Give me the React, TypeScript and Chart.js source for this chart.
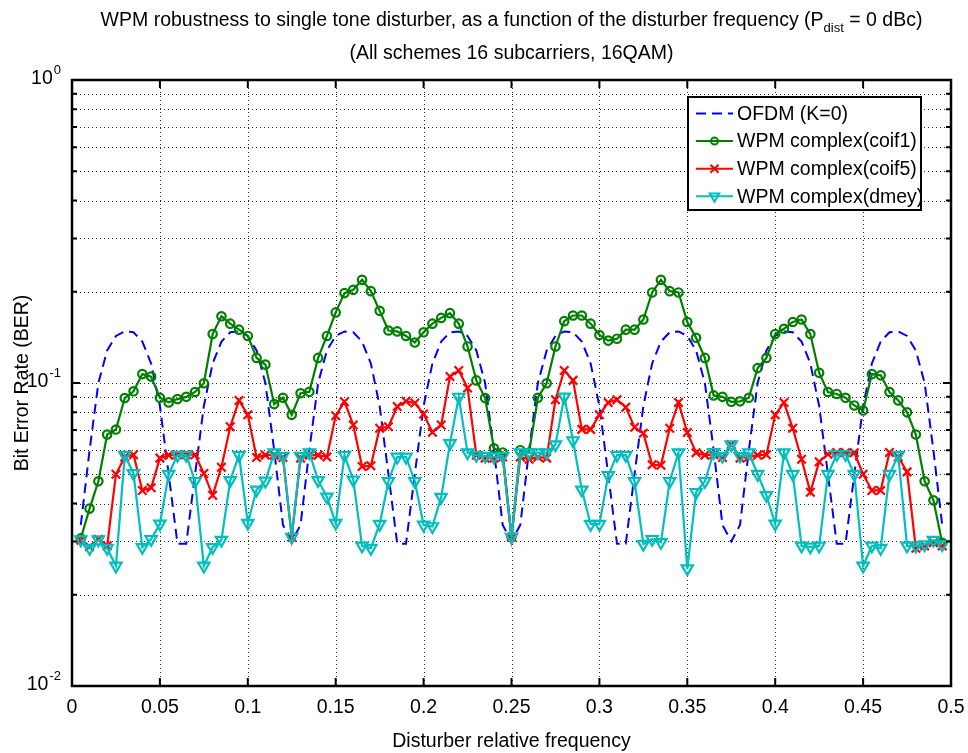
import React, { useEffect, useRef } from 'react';
import { Chart, registerables } from 'chart.js';

Chart.register(...registerables);

// Disturber relative frequency (sample points)
const frequency = [
  0.005, 0.01, 0.015, 0.02, 0.025, 0.03, 0.035, 0.04, 0.045, 0.05,
  0.055, 0.06, 0.065, 0.07, 0.075, 0.08, 0.085, 0.09, 0.095, 0.1,
  0.105, 0.11, 0.115, 0.12, 0.125, 0.13, 0.135, 0.14, 0.145, 0.15,
  0.155, 0.16, 0.165, 0.17, 0.175, 0.18, 0.185, 0.19, 0.195, 0.2,
  0.205, 0.21, 0.215, 0.22, 0.225, 0.23, 0.235, 0.24, 0.245, 0.25,
  0.255, 0.26, 0.265, 0.27, 0.275, 0.28, 0.285, 0.29, 0.295, 0.3,
  0.305, 0.31, 0.315, 0.32, 0.325, 0.33, 0.335, 0.34, 0.345, 0.35,
  0.355, 0.36, 0.365, 0.37, 0.375, 0.38, 0.385, 0.39, 0.395, 0.4,
  0.405, 0.41, 0.415, 0.42, 0.425, 0.43, 0.435, 0.44, 0.445, 0.45,
  0.455, 0.46, 0.465, 0.47, 0.475, 0.48, 0.485, 0.49, 0.495,
];

// OFDM (K=0)
const berOfdm = [
  0.034, 0.060, 0.100, 0.128, 0.143, 0.148, 0.147, 0.137, 0.116, 0.084,
  0.050, 0.0295, 0.0295, 0.050, 0.084, 0.116, 0.137, 0.147, 0.148, 0.143,
  0.128, 0.100, 0.060, 0.034, 0.030,
  0.034, 0.060, 0.100, 0.128, 0.143, 0.148, 0.147, 0.137, 0.116, 0.084,
  0.050, 0.0295, 0.0295, 0.050, 0.084, 0.116, 0.137, 0.147, 0.148, 0.143,
  0.128, 0.100, 0.060, 0.034, 0.030,
  0.034, 0.060, 0.100, 0.128, 0.143, 0.148, 0.147, 0.137, 0.116, 0.084,
  0.050, 0.0295, 0.0295, 0.050, 0.084, 0.116, 0.137, 0.147, 0.148, 0.143,
  0.128, 0.100, 0.060, 0.034, 0.030,
  0.034, 0.060, 0.100, 0.128, 0.143, 0.148, 0.147, 0.137, 0.116, 0.084,
  0.050, 0.0295, 0.0295, 0.050, 0.084, 0.116, 0.137, 0.147, 0.148, 0.143,
  0.128, 0.100, 0.060, 0.034,
];

// WPM complex(coif1)
const berCoif1 = [
  0.0307, 0.0385, 0.0474, 0.0676, 0.0702, 0.0892, 0.0939, 0.107, 0.105, 0.0894,
  0.0863, 0.0885, 0.090, 0.0934, 0.0998, 0.145, 0.166, 0.157, 0.150, 0.143,
  0.121, 0.115, 0.0852, 0.0894, 0.0785, 0.0925, 0.0935, 0.121, 0.143, 0.171,
  0.198, 0.203, 0.219, 0.201, 0.173, 0.149, 0.148, 0.143, 0.136, 0.147,
  0.157, 0.164, 0.170, 0.157, 0.132, 0.102, 0.0892, 0.0609, 0.059, 0.031,
  0.060, 0.059, 0.0894, 0.0998, 0.132, 0.160, 0.167, 0.167, 0.157, 0.144,
  0.138, 0.140, 0.150, 0.150, 0.162, 0.199, 0.219, 0.201, 0.199, 0.159,
  0.141, 0.121, 0.091, 0.090, 0.0867, 0.087, 0.0894, 0.112, 0.121, 0.145,
  0.151, 0.159, 0.162, 0.145, 0.108, 0.0934, 0.092, 0.0894, 0.0843, 0.0811,
  0.107, 0.106, 0.0934, 0.0876, 0.080, 0.0676, 0.0474, 0.0410, 0.0297,
];

// WPM complex(coif5)
const berCoif5 = [
  0.0303, 0.0288, 0.0305, 0.029, 0.050, 0.057, 0.058, 0.0442, 0.0451, 0.0565,
  0.0578, 0.058, 0.058, 0.058, 0.0503, 0.0426, 0.0527, 0.0717, 0.0876, 0.0785,
  0.0568, 0.0578, 0.0578, 0.0568, 0.031, 0.0565, 0.0578, 0.0578, 0.057, 0.078,
  0.0867, 0.0727, 0.053, 0.0533, 0.0709, 0.0717, 0.0836, 0.087, 0.0859, 0.079,
  0.0688, 0.0727, 0.105, 0.110, 0.0963, 0.0578, 0.0565, 0.0565, 0.057, 0.031,
  0.057, 0.056, 0.057, 0.0565, 0.0881, 0.110, 0.102, 0.0703, 0.0703, 0.0785,
  0.0862, 0.0881, 0.0832, 0.0714, 0.0683, 0.0537, 0.0535, 0.0709, 0.0862, 0.0686,
  0.0589, 0.0578, 0.058, 0.0568, 0.0626, 0.0565, 0.057, 0.0578, 0.058, 0.0785,
  0.0862, 0.0709, 0.056, 0.0436, 0.055, 0.0582, 0.059, 0.0589, 0.0589, 0.050,
  0.0442, 0.0442, 0.059, 0.057, 0.0509, 0.0285, 0.029, 0.0297, 0.029,
];

// WPM complex(dmey)
const berDmey = [
  0.0304, 0.0285, 0.0304, 0.0285, 0.0249, 0.0578, 0.0503, 0.0287, 0.0305, 0.0343,
  0.050, 0.0578, 0.0578, 0.0474, 0.0249, 0.0287, 0.0303, 0.0477, 0.0578, 0.0345,
  0.0444, 0.0475, 0.0589, 0.0574, 0.031, 0.0574, 0.0589, 0.0477, 0.0421, 0.0345,
  0.0578, 0.0479, 0.029, 0.0285, 0.0342, 0.0474, 0.057, 0.057, 0.0474, 0.034,
  0.0336, 0.042, 0.0632, 0.0899, 0.0589, 0.0578, 0.0574, 0.057, 0.0574, 0.031,
  0.0589, 0.0589, 0.0589, 0.0589, 0.0626, 0.090, 0.0646, 0.0444, 0.0342, 0.0342,
  0.0496, 0.0578, 0.0578, 0.0474, 0.0294, 0.0305, 0.0298, 0.0474, 0.0589, 0.0244,
  0.0436, 0.0474, 0.059, 0.0574, 0.0626, 0.0574, 0.0589, 0.050, 0.0426, 0.0343,
  0.0589, 0.050, 0.029, 0.0288, 0.029, 0.050, 0.0582, 0.0582, 0.050, 0.0249,
  0.029, 0.0285, 0.050, 0.0578, 0.029, 0.029, 0.0293, 0.0303, 0.0293,
];

const xTicks = [0, 0.05, 0.1, 0.15, 0.2, 0.25, 0.3, 0.35, 0.4, 0.45, 0.5];
const xTickLabels = ['0', '0.05', '0.1', '0.15', '0.2', '0.25', '0.3', '0.35', '0.4', '0.45', '0.5'];
const yDecades = [0.01, 0.1, 1];
const yDecadeExponents = ['-2', '-1', '0'];
const yMinorTicks = [
  0.02, 0.03, 0.04, 0.05, 0.06, 0.07, 0.08, 0.09,
  0.2, 0.3, 0.4, 0.5, 0.6, 0.7, 0.8, 0.9,
];

const FONT = '"Liberation Sans", Arial, Helvetica, sans-serif';
const TEXT_PX = 19.5;
const SUP_PX = 13;

const COLORS = {
  ofdm: '#0000ff',
  coif1: '#007f00',
  coif5: '#ff0000',
  dmey: '#00bfbf',
};

const OFDM_DASH = [10, 6];

type MarkerKind = 'none' | 'circle' | 'cross' | 'triangleDown';

const legendEntries: { label: string; color: string; dash: number[]; marker: MarkerKind }[] = [
  { label: 'OFDM (K=0)', color: COLORS.ofdm, dash: OFDM_DASH, marker: 'none' },
  { label: 'WPM complex(coif1)', color: COLORS.coif1, dash: [], marker: 'circle' },
  { label: 'WPM complex(coif5)', color: COLORS.coif5, dash: [], marker: 'cross' },
  { label: 'WPM complex(dmey)', color: COLORS.dmey, dash: [], marker: 'triangleDown' },
];

function drawMarker(ctx: CanvasRenderingContext2D, kind: MarkerKind, x: number, y: number, color: string) {
  ctx.save();
  ctx.strokeStyle = color;
  ctx.lineWidth = 2;
  ctx.setLineDash([]);
  ctx.beginPath();
  if (kind === 'circle') {
    ctx.arc(x, y, 3.5, 0, Math.PI * 2);
  } else if (kind === 'cross') {
    const r = 4;
    ctx.moveTo(x - r, y - r);
    ctx.lineTo(x + r, y + r);
    ctx.moveTo(x + r, y - r);
    ctx.lineTo(x - r, y + r);
  } else if (kind === 'triangleDown') {
    const r = 5.5;
    ctx.moveTo(x, y + r);
    ctx.lineTo(x + r * 0.866, y - r * 0.5);
    ctx.lineTo(x - r * 0.866, y - r * 0.5);
    ctx.closePath();
  }
  ctx.stroke();
  ctx.restore();
}

const matlabAxes = {
  id: 'matlabAxes',
  beforeDatasetsDraw(chart: any) {
    const { ctx, chartArea: a, scales } = chart;
    const x = scales.x;
    const y = scales.y;
    ctx.save();
    ctx.strokeStyle = '#2a2a2a';
    ctx.lineWidth = 1;
    ctx.setLineDash([1, 3]);
    for (const t of xTicks) {
      if (t <= 0 || t >= 0.5) continue;
      const px = Math.round(x.getPixelForValue(t)) + 0.5;
      ctx.beginPath();
      ctx.moveTo(px, a.top);
      ctx.lineTo(px, a.bottom);
      ctx.stroke();
    }
    for (const v of [...yMinorTicks, 0.1]) {
      const py = Math.round(y.getPixelForValue(v)) + 0.5;
      ctx.beginPath();
      ctx.moveTo(a.left, py);
      ctx.lineTo(a.right, py);
      ctx.stroke();
    }
    ctx.restore();
  },
  afterDatasetsDraw(chart: any) {
    const { ctx, chartArea: a, scales } = chart;
    const x = scales.x;
    const y = scales.y;
    ctx.save();
    ctx.strokeStyle = '#000';
    ctx.setLineDash([]);
    ctx.lineWidth = 2;
    // tick marks, drawn inwards on all four sides
    const majorLen = 8;
    const minorLen = 5;
    ctx.beginPath();
    for (const t of xTicks) {
      const px = x.getPixelForValue(t);
      ctx.moveTo(px, a.bottom);
      ctx.lineTo(px, a.bottom - majorLen);
      ctx.moveTo(px, a.top);
      ctx.lineTo(px, a.top + majorLen);
    }
    for (const v of yDecades) {
      const py = y.getPixelForValue(v);
      ctx.moveTo(a.left, py);
      ctx.lineTo(a.left + majorLen, py);
      ctx.moveTo(a.right, py);
      ctx.lineTo(a.right - majorLen, py);
    }
    for (const v of yMinorTicks) {
      const py = y.getPixelForValue(v);
      ctx.moveTo(a.left, py);
      ctx.lineTo(a.left + minorLen, py);
      ctx.moveTo(a.right, py);
      ctx.lineTo(a.right - minorLen, py);
    }
    ctx.stroke();
    // axes box
    ctx.lineWidth = 2.5;
    ctx.strokeRect(a.left, a.top, a.right - a.left, a.bottom - a.top);
    ctx.restore();
  },
  afterDraw(chart: any) {
    const { ctx, chartArea: a, scales } = chart;
    const x = scales.x;
    const y = scales.y;
    const cx = (a.left + a.right) / 2;
    ctx.save();
    ctx.fillStyle = '#000';
    ctx.textBaseline = 'alphabetic';

    // x tick labels
    ctx.font = `${TEXT_PX}px ${FONT}`;
    ctx.textAlign = 'center';
    xTicks.forEach((t, i) => {
      ctx.fillText(xTickLabels[i], x.getPixelForValue(t), a.bottom + 27);
    });

    // y tick labels: 10 with a raised exponent
    yDecades.forEach((v, i) => {
      const py = y.getPixelForValue(v);
      ctx.font = `${SUP_PX}px ${FONT}`;
      const wSup = ctx.measureText(yDecadeExponents[i]).width;
      ctx.font = `${TEXT_PX}px ${FONT}`;
      const wBase = ctx.measureText('10').width;
      const right = a.left - 11;
      ctx.textAlign = 'left';
      ctx.fillText('10', right - wSup - wBase - 1, py + 4);
      ctx.font = `${SUP_PX}px ${FONT}`;
      ctx.fillText(yDecadeExponents[i], right - wSup, py - 6);
    });

    // axis titles
    ctx.font = `${TEXT_PX}px ${FONT}`;
    ctx.textAlign = 'center';
    ctx.fillText('Disturber relative frequency', cx, a.bottom + 61);
    ctx.save();
    ctx.translate(a.left - 44, (a.top + a.bottom) / 2);
    ctx.rotate(-Math.PI / 2);
    ctx.fillText('Bit Error Rate (BER)', 0, 0);
    ctx.restore();

    // two-line title, first line carries a subscript
    const mainText = 'WPM robustness to single tone disturber, as a function of the disturber frequency (P';
    const subText = 'dist';
    const tailText = ' = 0 dBc)';
    ctx.font = `${TEXT_PX}px ${FONT}`;
    const wMain = ctx.measureText(mainText).width;
    const wTail = ctx.measureText(tailText).width;
    ctx.font = `${SUP_PX}px ${FONT}`;
    const wSub = ctx.measureText(subText).width;
    let tx = cx - (wMain + wSub + wTail) / 2;
    ctx.textAlign = 'left';
    ctx.font = `${TEXT_PX}px ${FONT}`;
    ctx.fillText(mainText, tx, 26);
    tx += wMain;
    ctx.font = `${SUP_PX}px ${FONT}`;
    ctx.fillText(subText, tx, 32);
    tx += wSub;
    ctx.font = `${TEXT_PX}px ${FONT}`;
    ctx.fillText(tailText, tx, 26);
    ctx.textAlign = 'center';
    ctx.fillText('(All schemes 16 subcarriers, 16QAM)', cx, 59);

    // legend box in the upper right of the axes
    const boxW = 233;
    const boxH = 113;
    const bx = a.right - 30 - boxW;
    const by = a.top + 17;
    ctx.fillStyle = '#fff';
    ctx.fillRect(bx, by, boxW, boxH);
    ctx.strokeStyle = '#000';
    ctx.lineWidth = 2;
    ctx.strokeRect(bx, by, boxW, boxH);
    const rowH = 27.6;
    legendEntries.forEach((e, i) => {
      const ry = by + 16.5 + i * rowH;
      const x0 = bx + 8;
      const x1 = bx + 45;
      ctx.save();
      ctx.strokeStyle = e.color;
      ctx.lineWidth = 2;
      ctx.setLineDash(e.dash);
      ctx.beginPath();
      ctx.moveTo(x0, ry);
      ctx.lineTo(x1, ry);
      ctx.stroke();
      ctx.restore();
      if (e.marker !== 'none') drawMarker(ctx, e.marker, (x0 + x1) / 2, ry, e.color);
      ctx.fillStyle = '#000';
      ctx.font = `${TEXT_PX}px ${FONT}`;
      ctx.textAlign = 'left';
      ctx.textBaseline = 'middle';
      ctx.fillText(e.label, bx + 49, ry + 1);
    });
    ctx.restore();
  },
};

function toPoints(values: number[]) {
  return frequency.map((f, i) => ({ x: f, y: values[i] }));
}

export default function App() {
  const canvasRef = useRef<HTMLCanvasElement | null>(null);

  useEffect(() => {
    const canvas = canvasRef.current;
    if (!canvas) return;
    const chart = new Chart(canvas, {
      type: 'line',
      data: {
        datasets: [
          {
            label: 'OFDM (K=0)',
            data: toPoints(berOfdm),
            borderColor: COLORS.ofdm,
            borderWidth: 2,
            borderDash: OFDM_DASH,
            pointRadius: 0,
            order: 4,
          },
          {
            label: 'WPM complex(coif1)',
            data: toPoints(berCoif1),
            borderColor: COLORS.coif1,
            borderWidth: 2.2,
            pointStyle: 'circle',
            pointRadius: 4.2,
            pointBorderWidth: 2.2,
            pointBorderColor: COLORS.coif1,
            pointBackgroundColor: 'rgba(0,0,0,0)',
            order: 3,
          },
          {
            label: 'WPM complex(coif5)',
            data: toPoints(berCoif5),
            borderColor: COLORS.coif5,
            borderWidth: 2.2,
            pointStyle: 'crossRot',
            pointRadius: 6,
            pointBorderWidth: 2.2,
            pointBorderColor: COLORS.coif5,
            pointBackgroundColor: 'rgba(0,0,0,0)',
            order: 2,
          },
          {
            label: 'WPM complex(dmey)',
            data: toPoints(berDmey),
            borderColor: COLORS.dmey,
            borderWidth: 2.2,
            pointStyle: 'triangle',
            pointRotation: 180,
            pointRadius: 6.5,
            pointBorderWidth: 2.2,
            pointBorderColor: COLORS.dmey,
            pointBackgroundColor: 'rgba(0,0,0,0)',
            order: 1,
          },
        ],
      },
      options: {
        responsive: false,
        animation: false,
        devicePixelRatio: 1,
        layout: { padding: { left: 72, top: 80, right: 17, bottom: 67 } },
        elements: { line: { tension: 0 } },
        plugins: {
          legend: { display: false },
          title: { display: false },
          tooltip: { enabled: false },
        },
        scales: {
          x: { type: 'linear', min: 0, max: 0.5, display: false },
          y: { type: 'logarithmic', min: 0.01, max: 1, display: false },
        },
      },
      plugins: [matlabAxes],
    });
    return () => chart.destroy();
  }, []);

  return (
    <div style={{ position: 'absolute', left: 0, top: 0, width: 968, height: 753, background: '#fff' }}>
      <canvas ref={canvasRef} width={968} height={753} style={{ display: 'block' }} />
    </div>
  );
}
